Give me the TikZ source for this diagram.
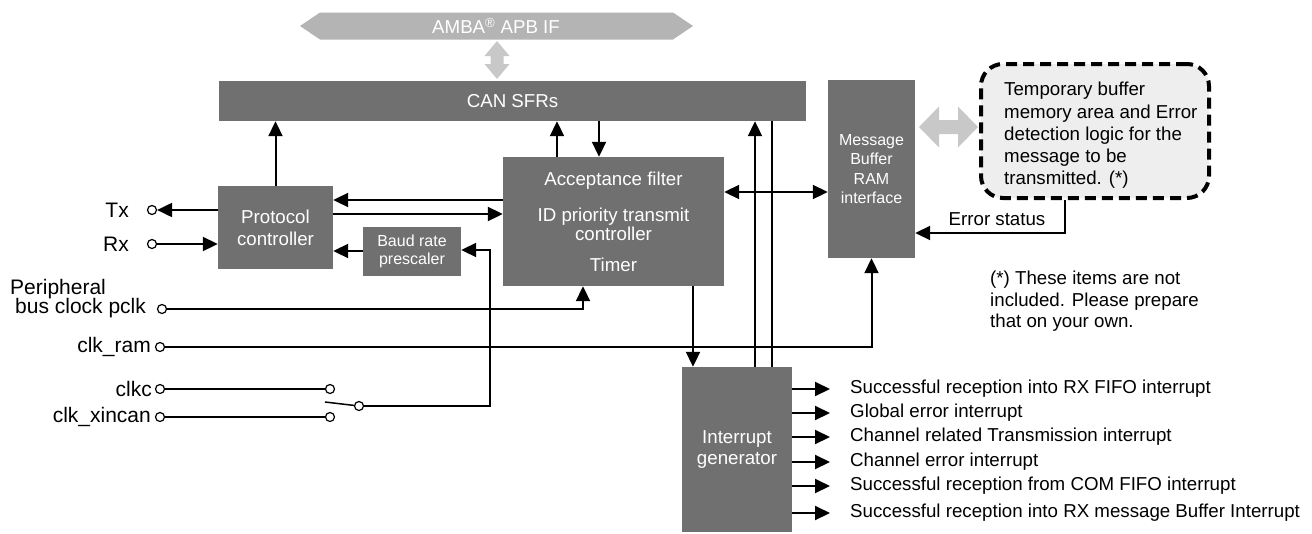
\documentclass[tikz,border=0pt]{standalone}
\usepackage{fontspec}
\setmainfont{Liberation Sans}
\usetikzlibrary{arrows.meta}
\definecolor{boxgray}{HTML}{707070}
\definecolor{ambagray}{HTML}{B4B4B4}
\definecolor{arrgray}{HTML}{C8C8C8}
\definecolor{dashfill}{HTML}{EEEEEE}
\begin{document}
\begin{tikzpicture}[x=1pt,y=-1pt,
  box/.style={fill=boxgray, text=white, inner sep=0pt, align=center, font=\fontsize{18.7}{22}\selectfont},
  smallbox/.style={box, font=\fontsize{16}{19}\selectfont},
  conn/.style={line width=2pt},
  arr/.style={conn, -{Triangle[length=15pt,width=14pt]}},
  darr/.style={conn, {Triangle[length=15pt,width=14pt]}-{Triangle[length=15pt,width=14pt]}},
  term/.style={circle, draw, line width=1.2pt, inner sep=0pt, minimum size=9pt, fill=white},
  lbl/.style={inner sep=0pt, font=\fontsize{21}{17}\selectfont},
  txt/.style={inner sep=0pt, font=\fontsize{18.7}{22}\selectfont},
  dashbox/.style={draw, fill=dashfill, line width=4pt, dash pattern=on 11pt off 6pt, rounded corners=22pt, inner sep=0pt},
]
\useasboundingbox (0,0) rectangle (1312,533);

% AMBA interface
\fill[ambagray] (300,26) -- (320,12.5) -- (673,12.5) -- (693,26) -- (673,39.5) -- (320,39.5) -- cycle;
\node[txt, text=white] (amba) at (496,26) {AMBA\textsuperscript{®} APB IF};
\fill[arrgray] (497,41) -- (509.5,56) -- (503.5,56) -- (503.5,64) -- (509.5,64) -- (497,79)
  -- (484.5,64) -- (490.5,64) -- (490.5,56) -- (484.5,56) -- cycle;

% boxes
\node[box, minimum width=587pt, minimum height=40pt] (can) at (512.5,101) {CAN SFRs};
\node[box, minimum width=115pt, minimum height=83pt] (proto) at (275.5,227.5) {Protocol\\controller};
\node[smallbox, minimum width=98pt, minimum height=49pt, font=\fontsize{16}{18}\selectfont] (baud) at (412,251.5) {Baud rate\\prescaler};
\node[box, minimum width=221pt, minimum height=129pt, font=\fontsize{18.7}{15}\selectfont] (acc) at (613.5,221.5)
  {Acceptance filter\\[18pt]ID priority transmit\\controller\\[16pt]Timer};
\node[smallbox, minimum width=87pt, minimum height=178pt, font=\fontsize{16}{19.3}\selectfont] (msg) at (871.5,169) {Message\\Buffer\\RAM\\interface};
\node[box, minimum width=110pt, minimum height=165pt, font=\fontsize{18.7}{21}\selectfont] (int) at (737,449.5) {Interrupt\\generator};
\node[dashbox, minimum width=228pt, minimum height=134pt] (dash) at (1095,131) {};
\node[txt, anchor=west, align=left, font=\fontsize{18.7}{22.2}\selectfont] (dashtxt) at (1004,135.5)
  {Temporary buffer\\memory area and Error\\detection logic for the\\message to be\\transmitted. (*)};
\fill[arrgray] (919,127) -- (939,106.5) -- (939,120) -- (958,120) -- (958,106.5) -- (978,127)
  -- (958,147.5) -- (958,134) -- (939,134) -- (939,147.5) -- cycle;

% note
\node[txt, anchor=west, align=left, font=\fontsize{18.7}{21.5}\selectfont] (note) at (990,301.5)
  {(*) These items are not\\included. Please prepare\\that on your own.};

% terminals and labels
\node[term] (txc) at (152,210) {};
\node[lbl, anchor=east] (txl) at (129,210) {Tx};
\node[term] (rxc) at (152,244) {};
\node[lbl, anchor=east] (rxl) at (129,244) {Rx};
\node[lbl, anchor=west] (perl) at (10,289) {Peripheral};
\node[lbl, anchor=west] (pclkl) at (15,308) {bus clock pclk};
\node[term] (pclkc) at (162,309) {};
\node[lbl, anchor=east] (raml) at (151,347) {clk\_ram};
\node[term] (ramc) at (160,347) {};
\node[lbl, anchor=east] (clkcl) at (152,389) {clkc};
\node[term] (clkcc) at (160,389) {};
\node[term] (clkcb) at (330,389) {};
\node[lbl, anchor=east] (xinl) at (151,417) {clk\_xincan};
\node[term] (xinc) at (160,417) {};
\node[term] (xinb) at (330,417) {};
\node[term] (piv) at (359,406) {};
\coordinate (blade) at (325,402);
\coordinate (bj) at (490,250);

% connectors
\draw[arr] (proto.west |- txc) -- (txc);
\draw[arr] (rxc) -- (proto.west |- rxc);
\draw[arr] (acc.west |- 0,200) -- (proto.east |- 0,200);
\draw[arr] (proto.east |- 0,214) -- (acc.west |- 0,214);
\draw[arr] (baud.west |- 0,251) -- (proto.east |- 0,251);
\draw[conn] (clkcc) -- (clkcb);
\draw[conn] (xinc) -- (xinb);
\draw[line width=1.5pt] (blade) -- (piv);
\draw[arr] (piv) -| (bj) -- (baud.east |- bj);
\draw[arr] (pclkc) -| (acc.south -| 583,0);
\draw[arr] (ramc) -| (msg.south);
\draw[arr] (acc.south -| 693,0) -- (int.north -| 693,0);
\draw[darr] (acc.east |- 0,192) -- (msg.west |- 0,192);
\draw[arr] (proto.north) -- (can.south -| proto.north);
\draw[arr] (acc.north -| 557,0) -- (can.south -| 557,0);
\draw[arr] (can.south -| 599,0) -- (acc.north -| 599,0);
\draw[arr] (int.north -| 755,0) -- (can.south -| 755,0);
\draw[conn] (int.north -| 772,0) -- (can.south -| 772,0);
\draw[arr] (dash.south -| 1065,0) |- (msg.east |- 0,233);
\node[txt] (errl) at (997,219) {Error status};

% interrupt outputs
\foreach \yy/\tt [count=\i] in {389/Successful reception into RX FIFO interrupt,
  413/Global error interrupt,
  437/Channel related Transmission interrupt,
  462/Channel error interrupt,
  486/Successful reception from COM FIFO interrupt,
  513/Successful reception into RX message Buffer Interrupt}{
  \coordinate (io\i) at (830,\yy);
  \draw[arr] (int.east |- io\i) -- (io\i);
  \node[txt, anchor=west] (il\i) at (850,\yy) {\tt};
}
\end{tikzpicture}
\end{document}
